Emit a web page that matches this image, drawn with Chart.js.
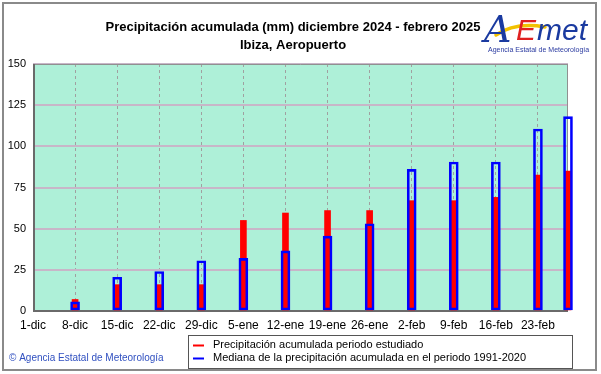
<!DOCTYPE html>
<html><head><meta charset="utf-8">
<script src="https://cdn.jsdelivr.net/npm/chart.js@4/dist/chart.umd.min.js"></script>
<style>html,body{margin:0;padding:0;background:#fff}#c{display:block}</style>
</head><body>
<canvas id="c" width="601" height="374"></canvas>
<script>
// ---- data ----
const startDate = '2024-12-01';
const endDate = '2025-02-28';
const barDates = ['2024-12-08','2024-12-15','2024-12-22','2024-12-29','2025-01-05','2025-01-12','2025-01-19','2025-01-26','2025-02-02','2025-02-09','2025-02-16','2025-02-23','2025-02-28'];
const observed = [7, 16, 16, 16, 55, 59.5, 61, 61, 67, 67, 69, 82.5, 85];
const median   = [5.5, 20.5, 24, 30.5, 32, 36.5, 45.5, 53, 86, 90.5, 90.5, 110.5, 118];
const xTickDates  = ['2024-12-01','2024-12-08','2024-12-15','2024-12-22','2024-12-29','2025-01-05','2025-01-12','2025-01-19','2025-01-26','2025-02-02','2025-02-09','2025-02-16','2025-02-23'];
const xTickLabels = ['1-dic','8-dic','15-dic','22-dic','29-dic','5-ene','12-ene','19-ene','26-ene','2-feb','9-feb','16-feb','23-feb'];
const yTicks = [0, 25, 50, 75, 100, 125, 150];
const titleLines = ['Precipitación acumulada (mm) diciembre 2024 - febrero 2025', 'Ibiza, Aeropuerto'];
const seriesNames = ['Precipitación acumulada periodo estudiado', 'Mediana de la precipitación acumulada en el periodo 1991-2020'];
const copyrightText = '© Agencia Estatal de Meteorología';

// ---- helpers ----
function dayOffset(d){ return Math.round((Date.parse(d+'T00:00:00Z') - Date.parse(startDate+'T00:00:00Z'))/86400000); }
const xTickDays = xTickDates.map(dayOffset);
const obsPoints = barDates.map((d,i)=>({x: dayOffset(d), y: observed[i]}));
const medPoints = barDates.map((d,i)=>({x: dayOffset(d), y: median[i]}));

const FONT = '"Liberation Sans", Arial, sans-serif';

const decor = {
  id: 'decor',
  beforeDraw(chart){
    const {ctx, chartArea: a} = chart;
    ctx.save();
    ctx.fillStyle = '#fff';
    ctx.fillRect(0,0,chart.width,chart.height);
    ctx.fillStyle = '#aef0d8';
    ctx.fillRect(a.left, a.top, a.right-a.left, a.bottom-a.top);
    ctx.restore();
  },
  beforeDatasetsDraw(chart){
    const {ctx, chartArea: a} = chart;
    ctx.save();
    ctx.strokeStyle = '#909090'; ctx.lineWidth = 1;
    ctx.beginPath();
    ctx.moveTo(a.left, a.top+0.5); ctx.lineTo(a.right, a.top+0.5);
    ctx.moveTo(a.right-0.5, a.top); ctx.lineTo(a.right-0.5, a.bottom);
    ctx.stroke();
    ctx.strokeStyle = '#6a6a6a'; ctx.lineWidth = 2;
    ctx.beginPath();
    ctx.moveTo(a.left+1, a.top); ctx.lineTo(a.left+1, a.bottom+1);
    ctx.moveTo(a.left, a.bottom); ctx.lineTo(a.right, a.bottom);
    ctx.stroke();
    ctx.restore();
  },
  afterDraw(chart){
    const ctx = chart.ctx;
    ctx.save();
    // outer frame
    ctx.strokeStyle = '#8a8a8a'; ctx.lineWidth = 2;
    ctx.strokeRect(3, 3, 593, 367);
    // title
    ctx.fillStyle = '#000';
    ctx.font = 'bold 13px ' + FONT;
    ctx.textAlign = 'center'; ctx.textBaseline = 'middle';
    ctx.fillText(titleLines[0], 293, 27);
    ctx.fillText(titleLines[1], 293, 45);
    // logo
    ctx.lineCap = 'round';
    ctx.strokeStyle = '#f2c200'; ctx.lineWidth = 3.5;
    ctx.beginPath(); ctx.moveTo(496, 35); ctx.quadraticCurveTo(515, 22, 545, 27); ctx.stroke();
    ctx.textAlign = 'left'; ctx.textBaseline = 'alphabetic';
    ctx.font = 'italic 38px "DejaVu Serif", serif';
    ctx.fillStyle = '#1a3aa0';
    ctx.fillText('A', 484, 42);
    ctx.font = 'italic 30px "Liberation Sans", sans-serif';
    ctx.fillStyle = '#e02020';
    ctx.fillText('E', 516, 40);
    ctx.fillStyle = '#1a3aa0';
    ctx.fillText('met', 537, 40);
    ctx.font = '7px ' + FONT;
    ctx.fillStyle = '#2a3aa0';
    ctx.fillText('Agencia Estatal de Meteorología', 488, 52);
    // copyright
    ctx.font = '10px ' + FONT;
    ctx.fillStyle = '#3050c0';
    ctx.textBaseline = 'middle';
    ctx.fillText(copyrightText, 9, 358);
    // legend
    ctx.strokeStyle = '#555'; ctx.lineWidth = 1;
    ctx.strokeRect(188.5, 335.5, 384, 33);
    const cols = ['#ff0000', '#0000ff'];
    const ys = [345, 358];
    ctx.font = '11px ' + FONT;
    for (let i=0;i<2;i++){
      ctx.strokeStyle = cols[i]; ctx.lineWidth = 2; ctx.lineCap = 'butt';
      ctx.beginPath(); ctx.moveTo(193, ys[i]+0.5); ctx.lineTo(204, ys[i]+0.5); ctx.stroke();
      ctx.fillStyle = '#000';
      ctx.fillText(seriesNames[i], 213, ys[i]);
    }
    ctx.restore();
  }
};

new Chart(document.getElementById('c'), {
  type: 'bar',
  data: {
    datasets: [
      { label: seriesNames[1], data: medPoints, backgroundColor: 'rgba(0,0,0,0)', borderColor: '#0000ff', borderWidth: 2, borderSkipped: false, barThickness: 9, clip: false },
      { label: seriesNames[0], data: obsPoints, backgroundColor: '#ff0000', borderWidth: 0, barThickness: 6, clip: false }
    ]
  },
  options: {
    responsive: false, animation: false, devicePixelRatio: 1,
    layout: { padding: { left: 0, top: 64, right: 33, bottom: 0 } },
    datasets: { bar: { grouped: false } },
    plugins: { legend: { display: false }, title: { display: false }, tooltip: { enabled: false } },
    scales: {
      x: {
        type: 'linear', min: 0, max: dayOffset(endDate), offset: false,
        afterBuildTicks(s){ s.ticks = xTickDays.map(v=>({value: v})); },
        afterFit(s){ s.height = 63; },
        ticks: { autoSkip: false, maxRotation: 0, padding: 7, color: '#000', font: { family: FONT, size: 12 },
          callback(v){ const i = xTickDays.indexOf(v); return i >= 0 ? xTickLabels[i] : ''; } },
        grid: { color: '#a0a0a0', lineWidth: 1, drawTicks: false, offset: false },
        border: { display: false, dash: [3, 3] }
      },
      y: {
        min: 0, max: 150,
        afterBuildTicks(s){ s.ticks = yTicks.map(v=>({value: v})); },
        afterFit(s){ s.width = 33; },
        ticks: { padding: 7, color: '#000', font: { family: FONT, size: 11 } },
        grid: { color: '#c8b6c8', lineWidth: 2, drawTicks: false },
        border: { display: false }
      }
    }
  },
  plugins: [decor]
});
</script>
</body></html>
